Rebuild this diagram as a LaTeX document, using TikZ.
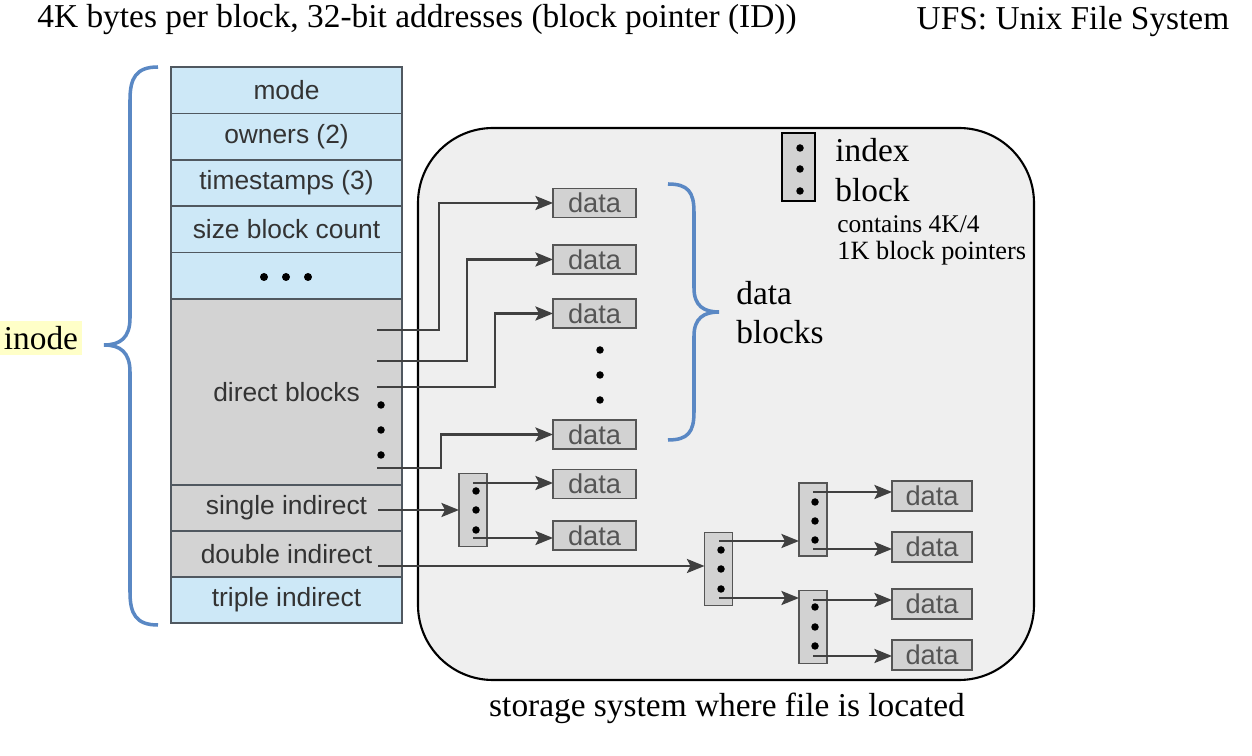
\documentclass[tikz,border=0pt]{standalone}
\usepackage{fontspec}
\setmainfont{Liberation Serif}
\setsansfont{Liberation Sans}
\usetikzlibrary{arrows.meta}
\definecolor{rowblue}{HTML}{CDE8F7}
\definecolor{rowgray}{HTML}{D3D3D3}
\definecolor{rowline}{HTML}{505860}
\definecolor{boxfill}{HTML}{EFEFEF}
\definecolor{arrowc}{HTML}{404040}
\definecolor{bracec}{HTML}{5A88C4}
\definecolor{hl}{HTML}{FFFFC8}
\definecolor{txtg}{HTML}{333333}
\definecolor{datat}{HTML}{555555}
\definecolor{datab}{HTML}{D2D2D2}
\begin{document}
\begin{tikzpicture}[x=0.02cm,y=-0.02cm,
  inoderow/.style={draw=rowline,line width=1pt,minimum width=4.62cm,inner sep=0pt,outer sep=0pt,
    font=\sffamily\fontsize{15}{18}\selectfont,text=txtg},
  bluerow/.style={inoderow,fill=rowblue,minimum height=0.928cm},
  grayrow/.style={inoderow,fill=rowgray,minimum height=0.92cm},
  datbox/.style={draw=datat,line width=1.1pt,fill=datab,minimum width=1.66cm,minimum height=0.58cm,
    inner sep=0pt,outer sep=0pt,font=\sffamily\fontsize{15.5}{17}\selectfont,text=datat},
  datboxb/.style={datbox,minimum width=1.6cm,minimum height=0.6cm},
  idxblk/.style={draw=datat,line width=1.1pt,fill=datab,minimum width=0.56cm,minimum height=1.46cm,inner sep=0pt,outer sep=0pt},
  arr/.style={draw=arrowc,line width=1.3pt,-{Stealth[length=10pt,width=8pt,inset=2pt]}},
  brc/.style={draw=bracec,line width=2pt},
  big/.style={font=\fontsize{19}{22}\selectfont,inner sep=0pt}
]
\useasboundingbox (0,0) rectangle (1252,756);
\fill[white] (0,0) rectangle (1252,756);

% titles
\node[big] (title) at (417,20) {4K bytes per block, 32-bit addresses (block pointer (ID))};
\node[big] (ufs) at (1073,22) {UFS: Unix File System};

% storage box
\draw[line width=1.2pt,fill=boxfill,rounded corners=1.5cm] (418,128) rectangle (1034,680);
\node[big] (storage) at (727,708) {storage system where file is located};

% inode table
\node[bluerow] (mode) at (286.5,90.2) {mode};
\node[bluerow] (owners) at (286.5,136.6) {owners (2)};
\node[bluerow] (times) at (286.5,183) {timestamps (3)};
\node[bluerow] (size) at (286.5,229.4) {size block count};
\node[bluerow] (more) at (286.5,275.8) {};
\node[inoderow,fill=rowgray,minimum height=3.72cm] (direct) at (286.5,392) {direct blocks};
\node[grayrow] (single) at (286.5,508) {single indirect};
\node[grayrow] (double) at (286.5,554) {double indirect};
\node[inoderow,fill=rowblue,minimum height=0.92cm] (triple) at (286.5,600) {triple indirect};
\foreach \x in {264,286,308} \fill (\x,277) circle (0.08cm);
\foreach \y in {405,430,455} \fill (381,\y) circle (0.075cm);

% direct data blocks
\node[datbox] (d1) at (594.5,203) {data};
\node[datbox] (d2) at (594.5,259.5) {data};
\node[datbox] (d3) at (594.5,313.5) {data};
\node[datbox] (d4) at (594.5,434.5) {data};
\foreach \y in {350,375,400} \fill (600,\y) circle (0.075cm);

\coordinate (p1) at (377,330);
\coordinate (p2) at (377,361);
\coordinate (p3) at (377,387);
\coordinate (p4) at (377,468);
\draw[arr] (p1) -- ++(62,0) |- (d1.west);
\draw[arr] (p2) -- ++(90,0) |- (d2.west);
\draw[arr] (p3) -- ++(118,0) |- (d3.west);
\draw[arr] (p4) -- ++(64,0) |- (d4.west);

% single indirect
\node[idxblk] (s1) at (473,510) {};
\foreach \y in {491,510,530} \fill (476,\y) circle (0.075cm);
\node[datbox] (sd1) at (594.5,484) {data};
\node[datbox] (sd2) at (594.5,535.5) {data};
\coordinate (si) at (378,510);
\draw[arr] (si) -- (s1.west);
\coordinate (s1a) at (473,483);
\coordinate (s1b) at (473,538);
\draw[arr] (s1a) -- (s1a -| sd1.west);
\draw[arr] (s1b) -- (s1b -| sd2.west);

% double indirect
\node[idxblk] (b1) at (718.5,569) {};
\foreach \y in {550,569,589} \fill (721,\y) circle (0.075cm);
\node[idxblk] (b2) at (813,519.5) {};
\foreach \y in {502,521,540} \fill (815,\y) circle (0.075cm);
\node[idxblk] (b3) at (813,627) {};
\foreach \y in {607,627,646} \fill (815,\y) circle (0.075cm);
\node[datboxb] (e1) at (932,496) {data};
\node[datboxb] (e2) at (932,547) {data};
\node[datboxb] (e3) at (932,604) {data};
\node[datboxb] (e4) at (932,655) {data};
\coordinate (di) at (378,566);
\draw[arr] (di) -- (di -| b1.west);
\coordinate (b1a) at (719,541);
\coordinate (b1b) at (719,598);
\draw[arr] (b1a) -- (b1a -| b2.west);
\draw[arr] (b1b) -- (b1b -| b3.west);
\coordinate (b2a) at (813,492);
\coordinate (b2b) at (813,549);
\coordinate (b3a) at (813,600);
\coordinate (b3b) at (813,656);
\draw[arr] (b2a) -- (b2a -| e1.west);
\draw[arr] (b2b) -- (b2b -| e2.west);
\draw[arr] (b3a) -- (b3a -| e3.west);
\draw[arr] (b3b) -- (b3b -| e4.west);

% legend
\node[draw=black,line width=1.2pt,fill=datab,minimum width=0.66cm,minimum height=1.36cm,inner sep=0pt] (leg) at (798.5,167) {};
\foreach \y in {148,169,191} \fill (800,\y) circle (0.075cm);
\node[big,anchor=west] (lindex) at (835,150) {index};
\node[big,anchor=west] (lblock) at (835,190) {block};
\node[anchor=west,inner sep=0pt,font=\fontsize{14.5}{18}\selectfont] (lc1) at (837,224) {contains 4K/4};
\node[anchor=west,inner sep=0pt,font=\fontsize{15}{18}\selectfont] (lc2) at (837,253) {1K block pointers};

% data blocks brace
\draw[brc] (668,184) .. controls (688,184) and (694,192) .. (694,212) -- (694,288)
  .. controls (694,306) and (704,312) .. (719,312)
  .. controls (704,312) and (694,318) .. (694,336) -- (694,412)
  .. controls (694,432) and (688,440) .. (668,440);
\node[big,anchor=west] (db1) at (736,293) {data};
\node[big,anchor=west] (db2) at (736,332) {blocks};

% inode brace
\draw[brc] (158,67) .. controls (136,67) and (130,78) .. (130,100) -- (130,318)
  .. controls (130,338) and (120,345) .. (104,345)
  .. controls (120,345) and (130,352) .. (130,372) -- (130,592)
  .. controls (130,614) and (136,625) .. (158,625);
\node[big,fill=hl,anchor=west,inner xsep=2pt,inner ysep=3pt] (inode) at (0,338) {inode};
\end{tikzpicture}
\end{document}
